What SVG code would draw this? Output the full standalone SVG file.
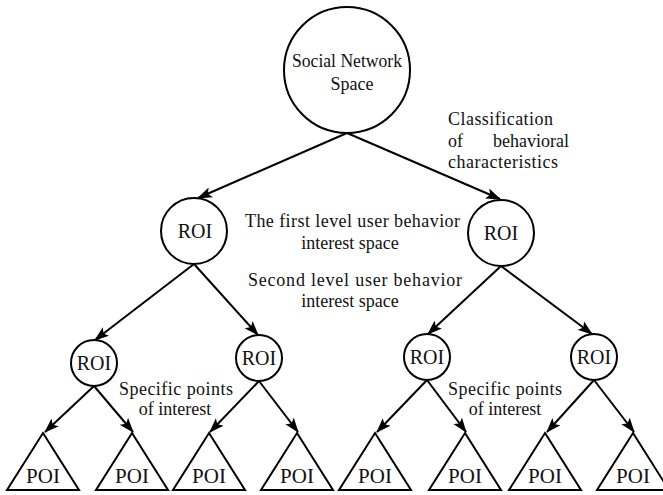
<svg xmlns="http://www.w3.org/2000/svg" width="663" height="495" viewBox="0 0 663 495">
<defs>
<marker id="arr" viewBox="0 0 14 10" refX="13" refY="5" markerWidth="15" markerHeight="11" markerUnits="userSpaceOnUse" orient="auto">
<path d="M0,0 L14,5 L0,10 L3,5 Z" fill="#000"/>
</marker>
<style>
.n{fill:#fff;stroke:#000;stroke-width:2}
.e{stroke:#000;stroke-width:2;fill:none;marker-end:url(#arr)}
text{font-family:"Liberation Serif","Times New Roman",serif;fill:#111}
.c{text-anchor:middle}
.lbl{font-size:18px}
.r1{font-size:20px}
.r2{font-size:20px}
.p{font-size:21px}
</style>
</defs>
<rect width="663" height="495" fill="#fff"/>
<g id="connectors">
<line class="e" x1="347" y1="133" x2="198" y2="198"/>
<line class="e" x1="347" y1="133" x2="500" y2="199"/>
<line class="e" x1="194" y1="264" x2="95" y2="340"/>
<line class="e" x1="194" y1="264" x2="258" y2="335"/>
<line class="e" x1="501" y1="266" x2="428" y2="334"/>
<line class="e" x1="501" y1="266" x2="592" y2="334"/>
<line class="e" x1="94" y1="386" x2="45" y2="432"/>
<line class="e" x1="94" y1="386" x2="133" y2="432"/>
<line class="e" x1="259" y1="381" x2="210" y2="432"/>
<line class="e" x1="259" y1="381" x2="298" y2="432"/>
<line class="e" x1="427" y1="380" x2="377" y2="432"/>
<line class="e" x1="427" y1="380" x2="466" y2="432"/>
<line class="e" x1="594" y1="380" x2="547" y2="432"/>
<line class="e" x1="594" y1="380" x2="634" y2="432"/>
</g>
<g id="social">
<circle class="n" cx="347" cy="70" r="63"/>
<text class="c" x="347" y="67" font-size="18" textLength="110" lengthAdjust="spacingAndGlyphs">Social Network</text>
<text class="c" x="352" y="90" font-size="18">Space</text>
</g>
<g id="roi-l1">
<circle class="n" cx="194" cy="231" r="33"/>
<text class="c r1" x="195" y="238">ROI</text>
</g>
<g id="roi-r1">
<circle class="n" cx="501" cy="233" r="33"/>
<text class="c r1" x="501" y="240">ROI</text>
</g>
<g id="roi-1">
<circle class="n" cx="94" cy="363" r="23"/>
<text class="c r2" x="94" y="370">ROI</text>
</g>
<g id="roi-2">
<circle class="n" cx="259" cy="358" r="23"/>
<text class="c r2" x="259" y="365">ROI</text>
</g>
<g id="roi-3">
<circle class="n" cx="427" cy="357" r="23"/>
<text class="c r2" x="427" y="364">ROI</text>
</g>
<g id="roi-4">
<circle class="n" cx="594" cy="357" r="23"/>
<text class="c r2" x="594" y="364">ROI</text>
</g>
<g id="poi-1"><path class="n" d="M43,433 L79,490 L7,490 Z"/><text class="c p" x="43" y="483">POI</text></g>
<g id="poi-2"><path class="n" d="M132,433 L168,490 L96,490 Z"/><text class="c p" x="132" y="483">POI</text></g>
<g id="poi-3"><path class="n" d="M209,433 L245,490 L173,490 Z"/><text class="c p" x="209" y="483">POI</text></g>
<g id="poi-4"><path class="n" d="M297,433 L333,490 L261,490 Z"/><text class="c p" x="297" y="483">POI</text></g>
<g id="poi-5"><path class="n" d="M375,433 L411,490 L339,490 Z"/><text class="c p" x="375" y="483">POI</text></g>
<g id="poi-6"><path class="n" d="M465,433 L501,490 L429,490 Z"/><text class="c p" x="465" y="483">POI</text></g>
<g id="poi-7"><path class="n" d="M545,433 L581,490 L509,490 Z"/><text class="c p" x="545" y="483">POI</text></g>
<g id="poi-8"><path class="n" d="M633,433 L669,490 L597,490 Z"/><text class="c p" x="633" y="483">POI</text></g>
<g id="labels">
<text class="lbl" x="448" y="125" textLength="105" lengthAdjust="spacing">Classification</text>
<text class="lbl" x="448" y="147">of</text>
<text class="lbl" x="569" y="147" text-anchor="end">behavioral</text>
<text class="lbl" x="448" y="168" textLength="110" lengthAdjust="spacing">characteristics</text>
<text class="lbl" x="245" y="227" textLength="215" lengthAdjust="spacing">The first level user behavior</text>
<text class="lbl c" x="350" y="249">interest space</text>
<text class="lbl" x="248" y="286" textLength="214" lengthAdjust="spacing">Second level user behavior</text>
<text class="lbl c" x="350" y="307">interest space</text>
<text class="lbl" x="119" y="395" textLength="114" lengthAdjust="spacing">Specific points</text>
<text class="lbl c" x="175" y="415">of interest</text>
<text class="lbl" x="448" y="395" textLength="114" lengthAdjust="spacing">Specific points</text>
<text class="lbl c" x="505" y="415">of interest</text>
</g>
</svg>
